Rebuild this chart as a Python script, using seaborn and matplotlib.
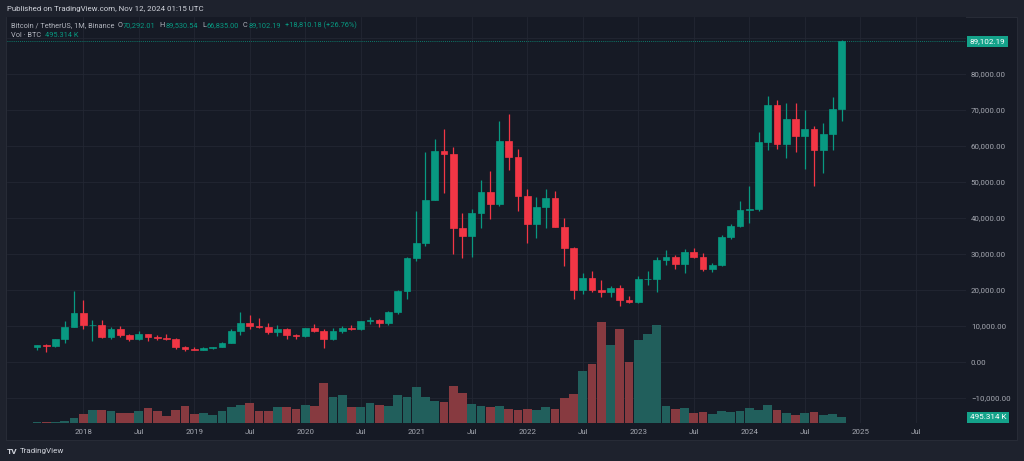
import matplotlib
matplotlib.use("Agg")
import matplotlib.pyplot as plt
import matplotlib.transforms as mtransforms
from matplotlib.patches import Rectangle
import seaborn as sns
import pandas as pd

# BTC/USDT monthly candles, Aug 2017 .. Nov 2024
start_month = "2017-08"
opens = [4261, 4690, 4378, 6463, 9838,
         13716, 10285, 10326, 6923, 9246, 7494, 6391, 7730, 7011, 6626, 6371, 4041,
         3702, 3434, 3814, 4103, 5320, 8555, 10855, 10085, 9630, 8294, 9199, 7546,
         7195, 9352, 8600, 6410, 8620, 9448, 9138, 11335, 11649, 10777, 13791, 19695,
         28923, 33092, 45135, 58740, 57697, 37254, 35045, 41462, 47100, 43820, 61300, 56950,
         46216, 38466, 43160, 45510, 37630, 31801, 19942, 23297, 20050, 19422, 20491, 17165,
         16541, 23125, 23141, 28465, 29233, 27210, 30472, 29232, 25941, 26963, 34640, 37723,
         42284, 42580, 61130, 71280, 60672, 67540, 62773, 64628, 58974, 63328, 70292.01]
highs = [4745, 4939, 6498, 11300, 19798,
         17176, 11786, 11710, 9765, 10020, 7786, 8507, 7760, 7410, 7680, 6600, 4312,
         4140, 4198, 4140, 5600, 9074, 13970, 13130, 12325, 10905, 10370, 9513, 7750,
         9578, 10500, 9188, 9468, 10067, 10380, 11444, 12468, 12050, 14100, 19863, 29300,
         41950, 58352, 61844, 64854, 59592, 41330, 42448, 50500, 52920, 67000, 69000, 59053,
         47990, 45821, 48189, 47444, 40023, 31982, 24668, 25211, 22800, 21085, 21480, 18387,
         23960, 25250, 29184, 31000, 29820, 31431, 31804, 30244, 27483, 35280, 38450, 44700,
         48969, 64000, 73777, 72797, 71979, 71980, 70079, 65660, 66498, 73620, 89530.54]
lows = [3400, 2817, 4110, 5325, 9722,
        9035, 5968, 6600, 6430, 7032, 5750, 6070, 5880, 6100, 6200, 3652, 3156,
        3330, 3400, 3660, 4082, 5320, 7444, 9080, 9320, 7710, 7300, 6515, 6435,
        6871, 8445, 3782, 6150, 8117, 8833, 8893, 10518, 9825, 10374, 13195, 17572,
        28130, 32296, 44950, 47044, 30000, 28805, 29278, 37332, 39600, 43283, 53256, 42000,
        32917, 34322, 37155, 37578, 26700, 17622, 18781, 19520, 18125, 18190, 15476, 16256,
        16499, 21351, 19549, 26942, 25811, 24800, 28861, 25166, 24901, 26538, 34097, 37616,
        38555, 41884, 59005, 59191, 56552, 58402, 53485, 49000, 52550, 58946, 66835.00]
closes = [4724, 4378, 6463, 9838, 13716,
          10285, 10326, 6923, 9246, 7494, 6391, 7730, 7011, 6626, 6371, 4041, 3702,
          3434, 3814, 4103, 5320, 8555, 10855, 10085, 9630, 8294, 9199, 7546, 7195,
          9352, 8600, 6410, 8620, 9448, 9138, 11335, 11649, 10777, 13791, 19695, 28923,
          33092, 45135, 58740, 57694, 37253, 35045, 41462, 47100, 43824, 61299, 56950, 46216,
          38466, 43160, 45510, 37630, 31801, 19942, 23293, 20050, 19422, 20490, 17164, 16542,
          23125, 23142, 28465, 29233, 27210, 30472, 29232, 25940, 26962, 34639, 37723, 42283,
          42580, 61131, 71280, 60672, 67540, 62772, 64628, 58974, 63328, 70292, 89102.19]
# volume in thousands of BTC
volumes = [61, 62, 88, 148, 409,
           783, 1131, 1128, 1018, 870, 872, 1018, 1279, 1016, 609, 1131, 1453,
           809, 844, 722, 1018, 1418, 1566, 1714, 1070, 1018, 1366, 1427, 1192,
           1566, 1479, 3454, 2297, 2471, 1392, 1390, 1714, 1540, 1453, 2471, 2236,
           3132, 2297, 1914, 1801, 3193, 2584, 1627, 1514, 1392, 1453, 1192, 1131,
           1192, 1131, 1392, 1192, 2210, 2558, 4524, 5133, 8787, 6786, 8178, 5307,
           7221, 7743, 8526, 1514, 1192, 1279, 870, 931, 783, 1018, 992, 1079,
           1305, 1157, 1566, 1105, 905, 670, 844, 931, 696, 757, 495.314]
price_ticks = list(range(-10000, 90001, 10000))

up_color = "#089981"
down_color = "#f23645"
vol_up = "#215f5c"
vol_down = "#873a40"
tag_color = "#14a28a"
pane_bg = "#161a25"
outer_bg = "#1e222d"
grid_color = "#232733"
text_color = "#b2b5be"
axis_text = "#a5a8b1"

sns.set_theme(style="dark", rc={"axes.facecolor": pane_bg, "figure.facecolor": outer_bg})
plt.rcParams["font.family"] = ["Roboto", "DejaVu Sans"]

df = pd.DataFrame({"open": opens, "high": highs, "low": lows,
                   "close": closes, "volume": volumes})
df["i"] = range(len(df))
df["dir"] = ["up" if c >= o else "down" for o, c in zip(df["open"], df["close"])]
df["color"] = [up_color if d == "up" else down_color for d in df["dir"]]

W, H = 1024, 461
fig = plt.figure(figsize=(W / 100, H / 100), dpi=100)


def fx(x):
    return x / W


def fy(y):
    return 1 - y / H


# chart pane background (includes price and time scales)
fig.patches.append(Rectangle((fx(6), fy(440)), fx(1011), (440 - 17) / H,
                             transform=fig.transFigure, facecolor=pane_bg,
                             edgecolor="#2a2e39", linewidth=0.6, zorder=-1))

ax = fig.add_axes([fx(7), fy(423), (966 - 7) / W, (423 - 17) / H])
ax.set_facecolor(pane_bg)
axv = ax.twinx()
axv.patch.set_visible(False)

# volume overlay
sns.barplot(data=df, x="i", y="volume", hue="dir", palette={"up": vol_up, "down": vol_down},
            native_scale=True, dodge=False, width=0.93, saturation=1, legend=False,
            errorbar=None, linewidth=0, ax=axv)
axv.set_ylim(0, 406 * 87)
axv.set_yticks([])
axv.set_ylabel("")
axv.set_xlabel("")
for s in axv.spines.values():
    s.set_visible(False)

# candles
ax.vlines(df["i"], df["low"], df["high"], colors=df["color"], linewidth=0.9, zorder=3)
body_low = df[["open", "close"]].min(axis=1)
body_h = (df["close"] - df["open"]).abs()
ax.bar(df["i"], body_h, bottom=body_low, width=0.72, color=df["color"],
       edgecolor=df["color"], linewidth=0.5, zorder=4)

ax.set_ylim(-16944, 95833)
ax.set_xlim(-3.24, 100.43)

# time ticks every 6 months
start = pd.Period(start_month, freq="M")
tick_periods = pd.period_range("2018-01", "2025-07", freq="M")[::6]
tick_pos = [(p - start).n for p in tick_periods]
tick_lab = [str(p.year) if p.month == 1 else "Jul" for p in tick_periods]
ax.set_xticks(tick_pos)
ax.set_xticklabels(tick_lab)
ax.yaxis.tick_right()
ax.set_yticks(price_ticks)
ax.set_yticklabels([f"{v:,.2f}".replace("-", "\u2212") for v in price_ticks])
ax.tick_params(axis="y", length=0, pad=3.5, labelsize=5.7, labelcolor=axis_text)
ax.tick_params(axis="x", length=0, pad=4, labelsize=5.7, labelcolor=axis_text)
ax.grid(True, color=grid_color, linewidth=0.6)
ax.set_axisbelow(True)
for s in ax.spines.values():
    s.set_visible(False)

# last price line and tags
last_close = df["close"].iloc[-1]
ax.axhline(last_close, color=up_color, linewidth=0.6, linestyle=(0, (1, 1.5)), zorder=2)
tr_p = mtransforms.blended_transform_factory(ax.transAxes, ax.transData)
ax.text(1.004, last_close, f"{last_close:,.2f}", transform=tr_p, ha="left", va="center",
        fontsize=5.9, color="white", clip_on=False, zorder=10,
        bbox=dict(boxstyle="square,pad=0.3", facecolor=tag_color, edgecolor="none"))
tr_v = mtransforms.blended_transform_factory(axv.transAxes, axv.transData)
axv.text(1.004, df["volume"].iloc[-1], "495.314 K", transform=tr_v, ha="left",
         va="center", fontsize=5.9, color="white", clip_on=False, zorder=10,
         bbox=dict(boxstyle="square,pad=0.3", facecolor=tag_color, edgecolor="none"))

# header texts
fig.text(fx(7), fy(9), "Published on TradingView.com, Nov 12, 2024 01:15 UTC",
         fontsize=5.7, color="#d1d4dc", va="center")

renderer = fig.canvas.get_renderer()


def chain(x0, y, parts, size):
    # place text pieces one after another, each with its own gap (pixels)
    x = x0
    for s, c, gap in parts:
        t = fig.text(fx(x), fy(y), s, fontsize=size, color=c, va="center")
        bb = t.get_window_extent(renderer)
        x = bb.x1 + gap


chain(11, 25.5, [
    ("Bitcoin / TetherUS, 1M, Binance", text_color, 3),
    ("O", text_color, 0.6), ("70,292.01", up_color, 4),
    ("H", text_color, 0.6), ("89,530.54", up_color, 4),
    ("L", text_color, 0.6), ("66,835.00", up_color, 4),
    ("C", text_color, 0.6), ("89,102.19", up_color, 4),
    ("+18,810.18 (+26.76%)", up_color, 0),
], 5.3)
chain(11, 35.5, [
    ("Vol \u00b7 BTC", text_color, 4),
    ("495.314 K", up_color, 0),
], 5.3)

# footer
fig.text(fx(7), fy(451), "TV", fontsize=6, color="#d1d4dc", va="center", weight="bold")
fig.text(fx(20), fy(451), "TradingView", fontsize=5.8, color="#d1d4dc", va="center")

fig.savefig("out.png", dpi=100, facecolor=outer_bg)
